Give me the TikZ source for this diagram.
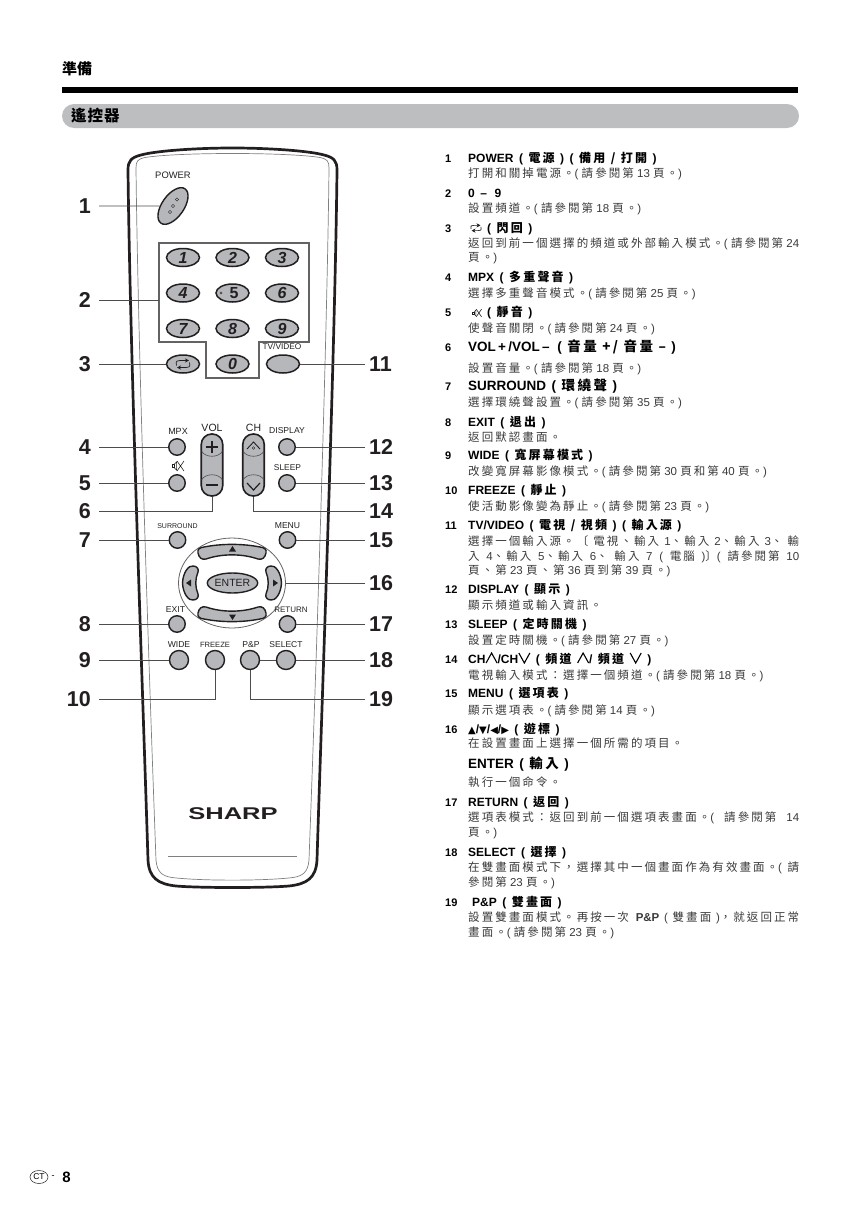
\documentclass[tikz,border=0pt]{standalone}
\usepackage{fontspec}
\usepackage{tikz}
\usetikzlibrary{shapes.geometric,arrows.meta}
\setmainfont{Liberation Sans}
\newfontfamily\cjkfont[LetterSpace=18]{Noto Sans CJK TC}
\newfontfamily\cjktight{Noto Sans CJK TC}
\newfontfamily\symfont{DejaVu Sans}
\newcommand{\zh}[1]{{\cjkfont #1}}
\newcommand{\fullline}[1]{\makebox[331pt][s]{#1}}
\newcommand{\headwords}{\spaceskip 5.5pt\relax}
\newcommand{\upcaret}{\tikz[baseline=0pt]\draw[line width=1.1pt] (0pt,0pt)--(5.5pt,10pt)--(11pt,0pt);}
\newcommand{\downcaret}{\tikz[baseline=0pt]\draw[line width=1.1pt] (0pt,10pt)--(5.5pt,0pt)--(11pt,10pt);}
\definecolor{btngray}{HTML}{B5B7BA}
\definecolor{bargray}{HTML}{BCBEC0}
\definecolor{inkdark}{HTML}{231F20}
\definecolor{bodyink}{HTML}{3A3A3A}
\tikzset{
  lead/.style={draw=inkdark!80, line width=0.8pt},
  roundbtn/.style={draw=inkdark, line width=1.4pt, fill=btngray, circle, inner sep=0pt, minimum size=16.5pt},
  bigbtn/.style={roundbtn, minimum size=19pt},
  numbtn/.style={draw=inkdark, line width=1.5pt, fill=btngray, ellipse, inner sep=0pt, minimum width=33pt, minimum height=18pt, font=\fontsize{16}{16}\selectfont\bfseries\itshape, text=inkdark},
  padbtn/.style={draw=inkdark, line width=1.4pt, fill=btngray},
  leftnum/.style={anchor=east, inner ysep=0pt, inner xsep=8pt, font=\fontsize{21.5}{22}\selectfont\bfseries, text=inkdark},
  rightnum/.style={anchor=west, inner ysep=0pt, inner xsep=4pt, font=\fontsize{21.5}{22}\selectfont\bfseries, text=inkdark},
  btnlabel/.style={inner sep=0pt, font=\fontsize{8.6}{9}\selectfont, text=inkdark},
  itemno/.style={anchor=base west, inner sep=0pt, font=\fontsize{11}{12}\selectfont\bfseries},
  itemhead/.style={anchor=base west, inner sep=0pt, font=\fontsize{12}{12}\selectfont\bfseries\headwords},
  bighead/.style={anchor=base west, inner sep=0pt, font=\fontsize{13.5}{14}\selectfont\bfseries\headwords},
  itembody/.style={anchor=base west, inner sep=0pt, font=\fontsize{11.5}{12}\selectfont, text=bodyink},
  muteicon/.pic={
    \draw[line width=0.5pt, inkdark] (-6,-1.5) rectangle (-4,1.5);
    \draw[line width=0.5pt, inkdark] (-4,-1.5) -- (-1.5,-4) -- (-1.5,4) -- (-4,1.5);
    \draw[line width=0.6pt, inkdark] (-1,-5) -- (6,5) (-1,5) -- (6,-5);
  },
  loopicon/.pic={
    \draw[line width=0.7pt, inkdark, -{Stealth[length=4pt,width=4pt]}] (-6.5,1.5) .. controls (-8,-3.5) and (-5,-3.5) .. (-3,-3.5) -- (6,-3.5);
    \draw[line width=0.7pt, inkdark, -{Stealth[length=4pt,width=4pt]}] (6.5,-1.5) .. controls (8,3.5) and (5,3.5) .. (3,3.5) -- (-6,3.5);
  },
}
\begin{document}
\begin{tikzpicture}[x=1pt,y=-1pt]
    \useasboundingbox (0,0) rectangle (860,1215);

    % page head
    \node[anchor=west, inner sep=0pt, font=\fontsize{15}{15}\selectfont\bfseries\cjktight] (pagetitle) at (62,69) {準備};
    \fill[black] (62,87) rectangle (798,92.5);
    \node[fill=bargray, rectangle, rounded corners=12pt, inner sep=0pt, minimum width=737pt, minimum height=24pt] (secbar) at (430.5,116) {};
    \node[anchor=west, inner sep=0pt, font=\fontsize{15.5}{16}\selectfont\bfseries\cjktight, text=black] (sectitle) at (71,116) {遙\kern1pt控\kern1pt器};

    % remote body
    \draw[inkdark, line width=2.7pt] (232.5,148) .. controls (195,148) and (155,151) .. (141,155)
      .. controls (131,157.5) and (128,161) .. (128,170)
      .. controls (130,350) and (143,700) .. (148,860)
      .. controls (149,878) and (158,884) .. (176,886)
      .. controls (200,888) and (265,888) .. (289,886)
      .. controls (307,884) and (316,878) .. (317,860)
      .. controls (322,700) and (335,350) .. (337,170)
      .. controls (337,161) and (334,157.5) .. (324,155)
      .. controls (310,151) and (270,148) .. (232.5,148) -- cycle;
    \draw[gray, line width=0.7pt] (232.5,153.5) .. controls (195,153.5) and (160,155) .. (145,157.5)
      .. controls (138,159) and (136,161) .. (136,168)
      .. controls (138,350) and (150,700) .. (156,860)
      .. controls (157,872) and (162,876) .. (172,877.5)
      .. controls (200,881) and (265,881) .. (293,877.5)
      .. controls (303,876) and (308,872) .. (309,860)
      .. controls (315,700) and (327,350) .. (329,168)
      .. controls (329,161) and (327,159) .. (320,157.5)
      .. controls (305,155) and (270,153.5) .. (232.5,153.5) -- cycle;
    \node[inner sep=0pt, xscale=1.5, font=\fontsize{17}{17}\selectfont\bfseries, text=inkdark] (brand) at (233,813.5) {SHARP};
    \draw[gray, line width=0.6pt] (168,856) -- (297,856);

    % frame round the digit keys
    \draw[inkdark!70, line width=1.1pt] (159,243) -- (309,243) -- (309,342) -- (259,342) -- (259,378) -- (206,378) -- (206,342) -- (159,342) -- cycle;
    \coordinate (framewest) at (159,300);

    % buttons
    \node[draw=inkdark, line width=1.4pt, fill=btngray, ellipse, rotate=55, inner sep=0pt, minimum width=42pt, minimum height=22pt] (power) at (173,206) {};
    \draw[inkdark, line width=0.4pt] (170,212) circle (1.6) (173,206) circle (1.6) (177,199.5) circle (1.6);

    \node[numbtn] (d1) at (183,257.5) {1};
    \node[numbtn] (d2) at (232.5,257.5) {2};
    \node[numbtn] (d3) at (282,257.5) {3};
    \node[numbtn] (d4) at (183,293) {4};
    \node[numbtn] (d5) at (232.5,293) {\hspace{3pt}\upshape 5};
    \node[numbtn] (d6) at (282,293) {6};
    \node[numbtn] (d7) at (183,328.5) {7};
    \node[numbtn] (d8) at (232.5,328.5) {8};
    \node[numbtn] (d9) at (282,328.5) {9};
    \node[numbtn] (flashback) at (183,364) {};
    \node[numbtn] (d0) at (232.5,364) {0};
    \node[numbtn] (tvvideo) at (283,364) {};
    \draw[inkdark, line width=0.4pt] (221,293) circle (1.2);
    \pic at (183,364) {loopicon};

    \node[roundbtn] (mpx) at (177,447) {};
    \node[roundbtn] (mute) at (177,483) {};
    \node[roundbtn] (surround) at (177.5,540) {};
    \node[roundbtn] (exit) at (177,624) {};
    \node[bigbtn] (wide) at (179,660) {};
    \node[bigbtn] (freeze) at (215,660) {};
    \node[bigbtn] (pnp) at (250,660) {};
    \node[bigbtn] (select) at (286,660) {};
    \node[roundbtn] (display) at (287,447) {};
    \node[roundbtn] (sleep) at (287,483) {};
    \node[roundbtn] (menu) at (287.5,540) {};
    \node[roundbtn] (return) at (287.5,624) {};

    % rockers
    \node[draw=inkdark, line width=1.6pt, fill=btngray, rectangle, rounded corners=10.5pt, inner sep=0pt, minimum width=21.5pt, minimum height=62pt] (vol) at (212,465) {};
    \draw[inkdark!80, line width=0.6pt] (201.5,451) .. controls (205,458) and (219,458) .. (222.5,451);
    \draw[inkdark!80, line width=0.6pt] (201.5,480) .. controls (205,473) and (219,473) .. (222.5,480);
    \draw[inkdark, line width=1.8pt] (206,447) -- (218,447) (212,441) -- (212,453) (206,485) -- (218,485);
    \node[draw=inkdark, line width=1.6pt, fill=btngray, rectangle, rounded corners=10.5pt, inner sep=0pt, minimum width=21.5pt, minimum height=62pt] (chan) at (253.5,465) {};
    \draw[inkdark!80, line width=0.6pt] (243,451) .. controls (246.5,458) and (260.5,458) .. (264,451);
    \draw[inkdark!80, line width=0.6pt] (243,480) .. controls (246.5,473) and (260.5,473) .. (264,480);
    \draw[inkdark, line width=0.9pt] (247,449) -- (253.5,442) -- (260,449);
    \draw[inkdark, line width=0.4pt] (253.5,448) circle (1.3);
    \draw[inkdark, line width=1.2pt] (247,483) -- (253.5,490) -- (260,483);

    % cursor pad
    \node[draw=inkdark!70, line width=0.8pt, fill=white, ellipse, inner sep=0pt, minimum width=107pt, minimum height=90pt] (pad) at (232,583) {};
    \draw[padbtn] (198,553) .. controls (197,549) and (200,547.5) .. (204,547) .. controls (222,543.5) and (242,543.5) .. (260,547)
      .. controls (264,547.5) and (267,549) .. (266,553) .. controls (265,558) and (262,560) .. (258,559) .. controls (242,553.5) and (222,553.5) .. (206,559) .. controls (202,560) and (199,558) .. (198,553) -- cycle;
    \draw[padbtn] (198,613) .. controls (197,617) and (200,618.5) .. (204,619) .. controls (222,622.5) and (242,622.5) .. (260,619)
      .. controls (264,618.5) and (267,617) .. (266,613) .. controls (265,608) and (262,606) .. (258,607) .. controls (242,612.5) and (222,612.5) .. (206,607) .. controls (202,606) and (199,608) .. (198,613) -- cycle;
    \draw[padbtn] (193,566) .. controls (189,565) and (183,572) .. (182.5,583) .. controls (183,594) and (189,601) .. (193,600)
      .. controls (197,600) and (199,597) .. (198,594) .. controls (195,587) and (195,579) .. (198,572) .. controls (199,569) and (197,566) .. (193,566) -- cycle;
    \draw[padbtn] (271,566) .. controls (275,565) and (281,572) .. (281.5,583) .. controls (281,594) and (275,601) .. (271,600)
      .. controls (267,600) and (265,597) .. (266,594) .. controls (269,587) and (269,579) .. (266,572) .. controls (265,569) and (267,566) .. (271,566) -- cycle;
    \fill[inkdark] (232.5,546) -- (236,551.5) -- (229,551.5) -- cycle;
    \fill[inkdark] (232.5,620) -- (236,614.5) -- (229,614.5) -- cycle;
    \fill[inkdark] (186,583) -- (191,579.5) -- (191,586.5) -- cycle;
    \fill[inkdark] (278,583) -- (273,579.5) -- (273,586.5) -- cycle;
    \node[draw=inkdark, line width=1.4pt, fill=btngray, ellipse, inner sep=0pt, minimum width=41pt, minimum height=20pt, font=\fontsize{10.5}{11}\selectfont, text=inkdark] (enter) at (232.5,583) {ENTER};

    % key captions
    \node[btnlabel, font=\fontsize{9.4}{10}\selectfont] (lpower) at (173,175) {POWER};
    \node[btnlabel, font=\fontsize{8.3}{9}\selectfont] (ltv) at (282,347) {TV/VIDEO};
    \node[btnlabel, font=\fontsize{9}{10}\selectfont] (lmpx) at (178,431) {MPX};
    \pic at (178,466) {muteicon};
    \node[btnlabel, font=\fontsize{10.5}{11}\selectfont] (lvol) at (212,428) {VOL};
    \node[btnlabel, font=\fontsize{10.5}{11}\selectfont] (lch) at (253.5,427.5) {CH};
    \node[btnlabel, font=\fontsize{8.6}{9}\selectfont] (ldisplay) at (287,431) {DISPLAY};
    \node[btnlabel, font=\fontsize{8.4}{9}\selectfont] (lsleep) at (287.5,468) {SLEEP};
    \node[btnlabel, font=\fontsize{7}{8}\selectfont] (lsurround) at (177.5,526) {SURROUND};
    \node[btnlabel] (lmenu) at (287.5,526) {MENU};
    \node[btnlabel] (lexit) at (175.5,610) {EXIT};
    \node[btnlabel, font=\fontsize{8}{9}\selectfont] (lreturn) at (291,610) {RETURN};
    \node[btnlabel] (lwide) at (179,645) {WIDE};
    \node[btnlabel, font=\fontsize{7.6}{8}\selectfont] (lfreeze) at (215,645) {FREEZE};
    \node[btnlabel] (lpnp) at (251,645) {P\&P};
    \node[btnlabel, font=\fontsize{8.5}{9}\selectfont] (lselect) at (286,645) {SELECT};

    % call-out numbers and leads
    \node[leftnum] (n1) at (99,206) {1};
    \node[leftnum] (n2) at (99,300) {2};
    \node[leftnum] (n3) at (99,364) {3};
    \node[leftnum] (n4) at (99,447) {4};
    \node[leftnum] (n5) at (99,483) {5};
    \node[leftnum] (n6) at (99,511) {6};
    \node[leftnum] (n7) at (99,540) {7};
    \node[leftnum] (n8) at (99,624) {8};
    \node[leftnum] (n9) at (99,660) {9};
    \node[leftnum] (n10) at (99,699) {10};
    \node[rightnum] (n11) at (365,364) {11};
    \node[rightnum] (n12) at (365,447) {12};
    \node[rightnum] (n13) at (365,483) {13};
    \node[rightnum] (n14) at (365,511) {14};
    \node[rightnum] (n15) at (365,540) {15};
    \node[rightnum] (n16) at (365,583) {16};
    \node[rightnum] (n17) at (365,624) {17};
    \node[rightnum] (n18) at (365,660) {18};
    \node[rightnum] (n19) at (365,699) {19};

    \draw[lead] (n1.east) -- (power);
    \draw[lead] (n2.east) -- (framewest);
    \draw[lead] (n3.east) -- (flashback);
    \draw[lead] (n4.east) -- (mpx);
    \draw[lead] (n5.east) -- (mute);
    \draw[lead] (n6.east) -| (vol.south);
    \draw[lead] (n7.east) -- (surround);
    \draw[lead] (n8.east) -- (exit);
    \draw[lead] (n9.east) -- (wide);
    \draw[lead] (n10.east) -| (freeze.south);
    \draw[lead] (n11.west) -- (tvvideo);
    \draw[lead] (n12.west) -- (display);
    \draw[lead] (n13.west) -- (sleep);
    \draw[lead] (n14.west) -| (chan.south);
    \draw[lead] (n15.west) -- (menu);
    \draw[lead] (n16.west) -- (pad);
    \draw[lead] (n17.west) -- (return);
    \draw[lead] (n18.west) -- (select);
    \draw[lead] (pnp) -- (select);
    \draw[lead] (n19.west) -| (pnp.south);

    % item list
    \node[itemno] (k1) at (445,162) {1};
    \node[itemhead] (h1) at (468,162) {POWER ( \zh{電源} ) ( \zh{備用 / 打開} )};
    \node[itembody] (b1) at (468,177) {\zh{打開和關掉電源。}( \zh{請參閱第} 13 \zh{頁。})};
    \node[itemno] (k2) at (445,197) {2};
    \node[itemhead] (h2) at (468,197) {0 –\, 9};
    \node[itembody] (b2) at (468,212) {\zh{設置頻道。}( \zh{請參閱第} 18 \zh{頁。})};
    \node[itemno] (k3) at (445,232) {3};
    \pic[scale=0.75] at (476,228) {loopicon};
    \node[itemhead] (h3) at (487,232) {( \zh{閃回} )};
    \node[itembody] (b3a) at (468,247) {\fullline{\zh{返回到前一個選擇的頻道或外部輸入模式。}( \zh{請參閱第} 24}};
    \node[itembody] (b3b) at (468,261) {\zh{頁。})};
    \node[itemno] (k4) at (445,281) {4};
    \node[itemhead] (h4) at (468,281) {MPX ( \zh{多重聲音} )};
    \node[itembody] (b4) at (468,297) {\zh{選擇多重聲音模式。}( \zh{請參閱第} 25 \zh{頁。})};
    \node[itemno] (k5) at (445,316) {5};
    \pic[scale=0.75] at (477,313) {muteicon};
    \node[itemhead] (h5) at (487,316) {( \zh{靜音} )};
    \node[itembody] (b5) at (468,332) {\zh{使聲音關閉。}( \zh{請參閱第} 24 \zh{頁。})};
    \node[itemno] (k6) at (445,351) {6};
    \node[bighead] (h6) at (468,351.5) {VOL\,+\,/VOL\,–\, ( \zh{音量 +/ 音量 –} )};
    \node[itembody] (b6) at (468,372) {\zh{設置音量。}( \zh{請參閱第} 18 \zh{頁。})};
    \node[itemno] (k7) at (445,390) {7};
    \node[bighead] (h7) at (468,390.5) {SURROUND ( \zh{環繞聲} )};
    \node[itembody] (b7) at (468,406) {\zh{選擇環繞聲設置。}( \zh{請參閱第} 35 \zh{頁。})};
    \node[itemno] (k8) at (445,426) {8};
    \node[itemhead] (h8) at (468,426) {EXIT ( \zh{退出} )};
    \node[itembody] (b8) at (468,441) {\zh{返回默認畫面。}};
    \node[itemno] (k9) at (445,459) {9};
    \node[itemhead] (h9) at (468,459) {WIDE ( \zh{寬屏幕模式} )};
    \node[itembody] (b9) at (468,475) {\zh{改變寬屏幕影像模式。}( \zh{請參閱第} 30 \zh{頁和第} 40 \zh{頁。})};
    \node[itemno] (k10) at (445,494) {10};
    \node[itemhead] (h10) at (468,494) {FREEZE ( \zh{靜止} )};
    \node[itembody] (b10) at (468,510) {\zh{使活動影像變為靜止。}( \zh{請參閱第} 23 \zh{頁。})};
    \node[itemno] (k11) at (445,529) {11};
    \node[itemhead] (h11) at (468,529) {TV/VIDEO ( \zh{電視 / 視頻} ) ( \zh{輸入源} )};
    \node[itembody] (b11a) at (468,545) {\fullline{\zh{選擇一個輸入源。〔} \zh{電視、輸入} 1\zh{、輸入} 2\zh{、輸入} 3\zh{、} \zh{輸}}};
    \node[itembody] (b11b) at (468,560) {\fullline{\zh{入} 4\zh{、輸入} 5\zh{、輸入} 6\zh{、} \zh{輸入} 7 ( \zh{電腦} )\zh{〕}( \zh{請參閱第} 10}};
    \node[itembody] (b11c) at (468,574) {\zh{頁、第} 23 \zh{頁、第} 36 \zh{頁到第} 39 \zh{頁。})};
    \node[itemno] (k12) at (445,593) {12};
    \node[itemhead] (h12) at (468,593) {DISPLAY ( \zh{顯示} )};
    \node[itembody] (b12) at (468,609) {\zh{顯示頻道或輸入資訊。}};
    \node[itemno] (k13) at (445,628) {13};
    \node[itemhead] (h13) at (468,628) {SLEEP ( \zh{定時關機} )};
    \node[itembody] (b13) at (468,644) {\zh{設置定時關機。}( \zh{請參閱第} 27 \zh{頁。})};
    \node[itemno] (k14) at (445,663) {14};
    \node[itemhead] (h14) at (468,663) {CH\upcaret/CH\downcaret\ ( \zh{頻道} \upcaret/ \zh{頻道} \downcaret\ )};
    \node[itembody] (b14) at (468,679) {\zh{電視輸入模式：選擇一個頻道。}( \zh{請參閱第} 18 \zh{頁。})};
    \node[itemno] (k15) at (445,697) {15};
    \node[itemhead] (h15) at (468,697) {MENU ( \zh{選項表} )};
    \node[itembody] (b15) at (468,714) {\zh{顯示選項表。}( \zh{請參閱第} 14 \zh{頁。})};
    \node[itemno] (k16) at (445,733) {16};
    \node[itemhead] (h16) at (468,733) {{\symfont\fontsize{10}{10}\selectfont ▲}/{\symfont\fontsize{10}{10}\selectfont ▼}/{\symfont\fontsize{10}{10}\selectfont ◀}/{\symfont\fontsize{10}{10}\selectfont ▶}\ ( \zh{遊標} )};
    \node[itembody] (b16) at (468,747) {\zh{在設置畫面上選擇一個所需的項目。}};
    \node[bighead] (h16b) at (468,768) {ENTER ( \zh{輸入} )};
    \node[itembody] (b16b) at (468,786) {\zh{執行一個命令。}};
    \node[itemno] (k17) at (445,806) {17};
    \node[itemhead] (h17) at (468,806) {RETURN ( \zh{返回} )};
    \node[itembody] (b17a) at (468,821) {\fullline{\zh{選項表模式：返回到前一個選項表畫面。}( \zh{請參閱第} 14}};
    \node[itembody] (b17b) at (468,836) {\zh{頁。})};
    \node[itemno] (k18) at (445,856) {18};
    \node[itemhead] (h18) at (468,856) {SELECT ( \zh{選擇} )};
    \node[itembody] (b18a) at (468,871) {\fullline{\zh{在雙畫面模式下，選擇其中一個畫面作為有效畫面。}( \zh{請}}};
    \node[itembody] (b18b) at (468,886) {\zh{參閱第} 23 \zh{頁。})};
    \node[itemno] (k19) at (445,906) {19};
    \node[itemhead] (h19) at (472,906) {P\&P ( \zh{雙畫面} )};
    \node[itembody] (b19a) at (468,921) {\fullline{\zh{設置雙畫面模式。再按一次} \textbf{P\&P} ( \zh{雙畫面} )\zh{，就返回正常}}};
    \node[itembody] (b19b) at (468,936) {\zh{畫面。}( \zh{請參閱第} 23 \zh{頁。})};

    % page foot
    \node[draw=inkdark, line width=0.5pt, ellipse, inner sep=0pt, minimum width=18pt, minimum height=13pt, font=\fontsize{8.5}{9}\selectfont] (region) at (39,1177) {CT};
    \node[inner sep=0pt, font=\fontsize{9}{9}\selectfont] (dash) at (53,1177) {-};
    \node[inner sep=0pt, font=\fontsize{15}{15}\selectfont\bfseries] (pageno) at (66.5,1177) {8};
\end{tikzpicture}
\end{document}
